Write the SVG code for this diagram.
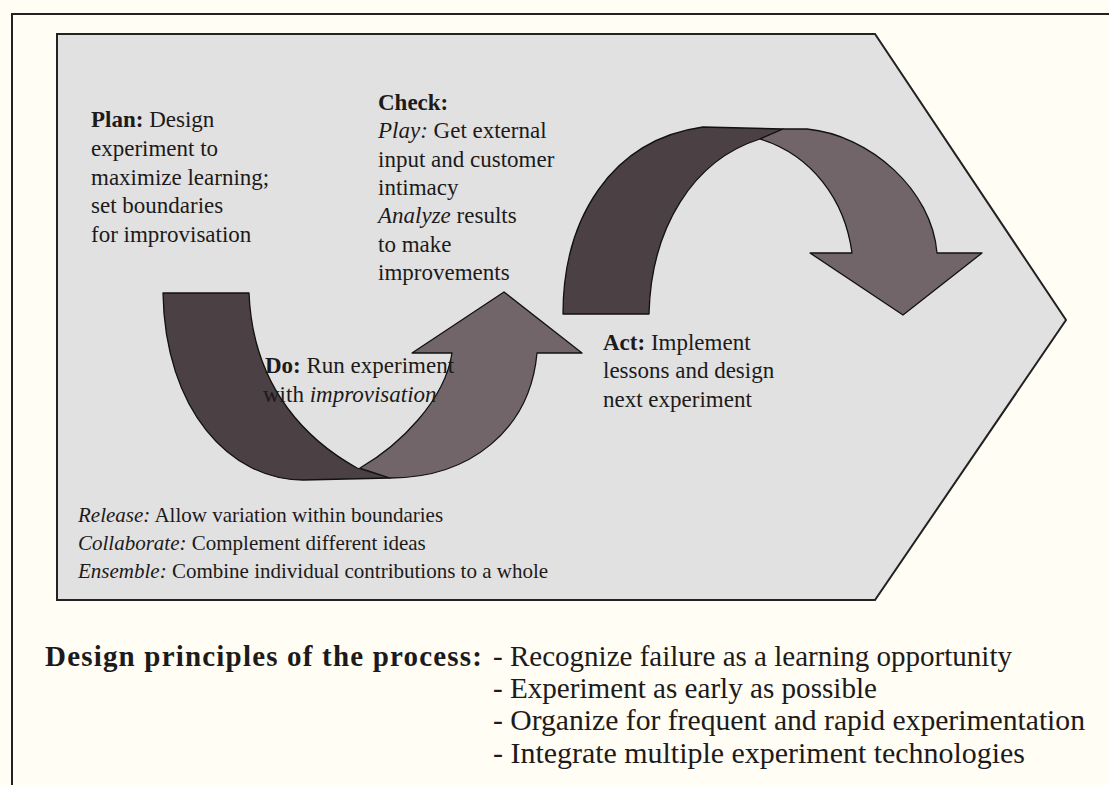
<svg xmlns="http://www.w3.org/2000/svg" width="1109" height="785" viewBox="0 0 1109 785">
<style>
  text { font-family: "Liberation Serif", "Times New Roman", serif; fill: #1c1a1a; }
  .t { font-size: 23px; }
  .s { font-size: 21px; }
  .b { font-weight: bold; }
  .i { font-style: italic; }
  .big { font-size: 29px; }
  .dark { fill: #4b4043; stroke: #111; stroke-width: 1.3; stroke-linejoin: round; }
  .light { fill: #716569; stroke: #111; stroke-width: 1.3; stroke-linejoin: round; }
</style>
<rect x="0" y="0" width="1109" height="785" fill="#fffdf4"/>
<path d="M12,785 L12,14 L1109,14" fill="none" stroke="#222" stroke-width="2"/>
<g id="frame">
  <path d="M57,34 L875,34 L1066,320 L875,600 L57,600 Z" fill="#e1e1e1" stroke="#222" stroke-width="2"/>
</g>
<g id="connectors">
  <path class="dark" d="M163,293 L249,293 C253,392 312,443 357,468 L390,478 L303,480 C230,480 165,410 163,293 Z"/>
  <path class="light" d="M360,468 C400,445 445,400 452,353 L412,353 L504,292 L582,353 L537,353 C530,430 470,478 390,478 Z"/>
  <path class="dark" d="M563,314 L649,314 C651,228 693,160 760,139 L783,129 L703,127 C610,140 563,220 563,314 Z"/>
  <path class="light" d="M760,139 L783,129 L807,129 C870,135 932,190 937,253 L982,253 L903,315 L810,253 L852,253 C845,200 812,155 760,139 Z"/>
</g>
<g id="plan">
  <text class="t" x="91" y="127"><tspan class="b">Plan:</tspan> Design</text>
  <text class="t" x="91" y="156">experiment to</text>
  <text class="t" x="91" y="185">maximize learning;</text>
  <text class="t" x="91" y="213">set boundaries</text>
  <text class="t" x="91" y="242">for improvisation</text>
</g>
<g id="check">
  <text class="t b" x="378" y="110">Check:</text>
  <text class="t" x="378" y="138"><tspan class="i">Play:</tspan> Get external</text>
  <text class="t" x="378" y="167">input and customer</text>
  <text class="t" x="378" y="195">intimacy</text>
  <text class="t" x="378" y="223"><tspan class="i">Analyze</tspan> results</text>
  <text class="t" x="378" y="252">to make</text>
  <text class="t" x="378" y="280">improvements</text>
</g>
<g id="do">
  <text class="t" x="265" y="373"><tspan class="b">Do:</tspan> Run experiment</text>
  <text class="t" x="263" y="402">with <tspan class="i">improvisation</tspan></text>
</g>
<g id="act">
  <text class="t" x="603" y="350"><tspan class="b">Act:</tspan> Implement</text>
  <text class="t" x="603" y="378">lessons and design</text>
  <text class="t" x="603" y="407">next experiment</text>
</g>
<g id="notes">
  <text class="s" x="78" y="522"><tspan class="i">Release:</tspan> Allow variation within boundaries</text>
  <text class="s" x="78" y="550"><tspan class="i">Collaborate:</tspan> Complement different ideas</text>
  <text class="s" x="78" y="578"><tspan class="i">Ensemble:</tspan> Combine individual contributions to a whole</text>
</g>
<g id="principles">
  <text class="big b" x="45" y="666" textLength="437" lengthAdjust="spacing">Design principles of the process:</text>
  <text class="big" x="493" y="666" textLength="519" lengthAdjust="spacingAndGlyphs">- Recognize failure as a learning opportunity</text>
  <text class="big" x="493" y="698" textLength="384" lengthAdjust="spacingAndGlyphs">- Experiment as early as possible</text>
  <text class="big" x="493" y="730" textLength="592" lengthAdjust="spacingAndGlyphs">- Organize for frequent and rapid experimentation</text>
  <text class="big" x="493" y="763" textLength="532" lengthAdjust="spacingAndGlyphs">- Integrate multiple experiment technologies</text>
</g>
</svg>
